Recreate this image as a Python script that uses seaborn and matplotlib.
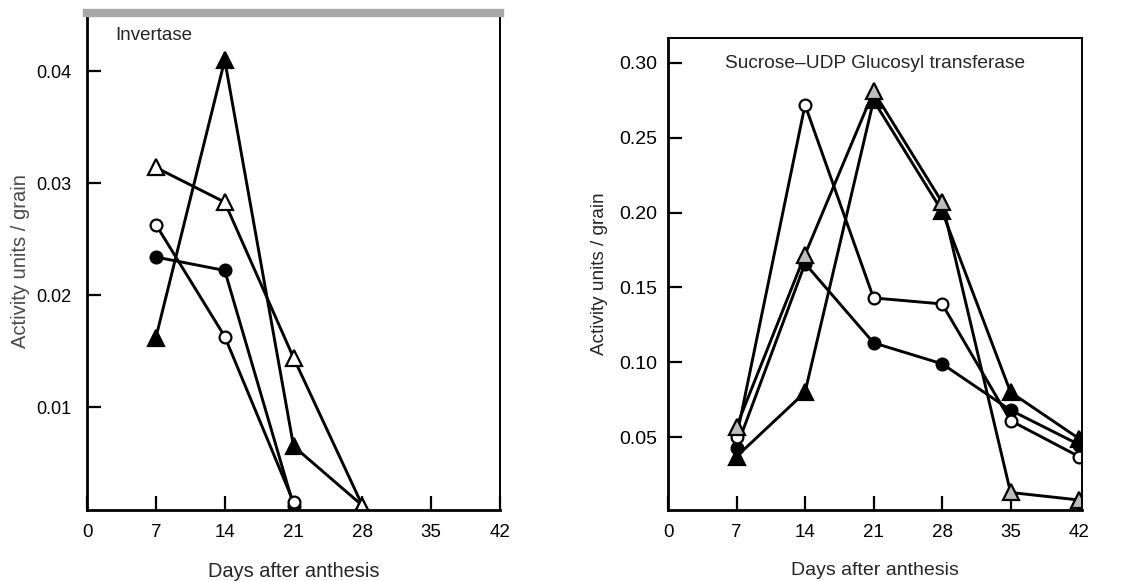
import numpy as np
import pandas as pd
import seaborn as sns
import matplotlib.pyplot as plt

# Invertase panel (days 7..28)
inv_days = [7, 14, 21, 28]
inv_filled_tri = [0.0162, 0.0410, 0.0065, 0.0012]
inv_open_tri = [0.0314, 0.0283, 0.0144, 0.0012]
inv_open_circ = [0.0263, 0.0163, 0.0015]
inv_filled_circ = [0.0234, 0.0222, 0.0012]

# Sucrose-UDP glucosyl transferase panel (days 7..42)
sus_days = [7, 14, 21, 28, 35, 42]
sus_open_circ = [0.050, 0.272, 0.143, 0.139, 0.061, 0.037]
sus_filled_circ = [0.043, 0.166, 0.113, 0.099, 0.068, 0.045]
sus_open_tri = [0.057, 0.172, 0.281, 0.207, 0.013, 0.008]
sus_filled_tri = [0.037, 0.080, 0.275, 0.201, 0.080, 0.049]

x_ticks = [0, 7, 14, 21, 28, 35, 42]
inv_yticks = [0.01, 0.02, 0.03, 0.04]
sus_yticks = [0.05, 0.10, 0.15, 0.20, 0.25, 0.30]

sns.set_style('ticks')
plt.rcParams['font.family'] = ['Liberation Sans', 'DejaVu Sans']

fig = plt.figure(figsize=(11.38, 5.81), dpi=100)
ax1 = fig.add_axes([0.0765, 0.1222, 0.3629, 0.8554])
ax2 = fig.add_axes([0.587, 0.1222, 0.3638, 0.8124])


def draw(ax, x, y, marker, face, ms):
    sns.lineplot(x=x[:len(y)], y=y, ax=ax, color='black', lw=2.1,
                 marker=marker, markersize=ms, markerfacecolor=face,
                 markeredgecolor='black', markeredgewidth=1.6, estimator=None)


draw(ax1, inv_days, inv_filled_circ, 'o', 'black', 8.5)
draw(ax1, inv_days, inv_open_circ, 'o', 'white', 8.5)
draw(ax1, inv_days, inv_filled_tri, '^', 'black', 11)
draw(ax1, inv_days, inv_open_tri, '^', 'white', 11)

draw(ax2, sus_days, sus_filled_circ, 'o', 'black', 8.5)
draw(ax2, sus_days, sus_open_circ, 'o', 'white', 8.5)
draw(ax2, sus_days, sus_filled_tri, '^', 'black', 11)
draw(ax2, sus_days, sus_open_tri, '^', '#bdbdbd', 11)

ax1.set_xlim(0, 42)
ax1.set_ylim(0.0008, 0.0452)
ax1.set_yticks(inv_yticks)
ax1.set_yticklabels(['0.01', '0.02', '0.03', '0.04'])
ax2.set_xlim(0, 42.3)
ax2.set_ylim(0.0013, 0.3167)
ax2.set_yticks(sus_yticks)
ax2.set_yticklabels(['0.05', '0.10', '0.15', '0.20', '0.25', '0.30'])

for ax in (ax1, ax2):
    ax.set_xticks(x_ticks)
    ax.set_xticklabels([str(t) for t in x_ticks])
    ax.tick_params(direction='in', length=10, width=1.6, colors='black')
    ax.tick_params(axis='x', labelsize=13.5, pad=10)
    for s in ax.spines.values():
        s.set_color('black')
        s.set_linewidth(1.4)
    ax.spines['left'].set_linewidth(2)
    ax.spines['bottom'].set_linewidth(2)
    ax.grid(False)

ax1.tick_params(axis='y', labelsize=13, pad=11)
ax2.tick_params(axis='y', labelsize=14, pad=8)

ax1.set_xlabel('Days after anthesis', fontsize=14.4, labelpad=15)
ax2.set_xlabel('Days after anthesis', fontsize=14, labelpad=15)
ax1.set_ylabel('Activity units / grain', fontsize=14.5, labelpad=5,
               color='#4a4a4a')
ax2.set_ylabel('Activity units / grain', fontsize=13.7, labelpad=8)

ax1.spines['top'].set_color('#a8a8a8')
ax1.spines['top'].set_linewidth(6)

ax1.text(0.068, 0.955, 'Invertase', transform=ax1.transAxes,
         fontsize=13.5, va='center', ha='left')
ax2.text(0.5, 0.947, 'Sucrose\u2013UDP Glucosyl transferase',
         transform=ax2.transAxes, fontsize=13.8, va='center', ha='center')

fig.savefig('out.png', dpi=100)
